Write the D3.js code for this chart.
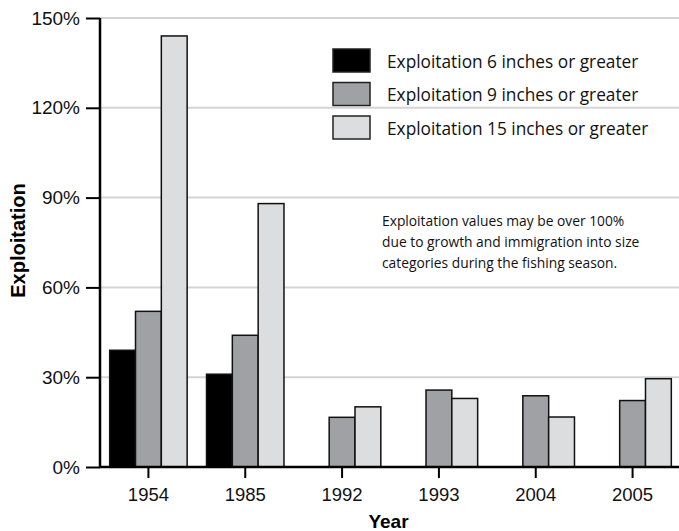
<!DOCTYPE html>
<html>
<head>
<meta charset="utf-8">
<script src="https://cdn.jsdelivr.net/npm/d3@7"></script>
<style>
  body { margin: 0; background: #fff; }
  svg { display: block; }
</style>
</head>
<body>
<svg id="chart" width="679" height="531"></svg>
<script>
const years = ['1954', '1985', '1992', '1993', '2004', '2005'];
const seriesNames = [
  'Exploitation 6 inches or greater',
  'Exploitation 9 inches or greater',
  'Exploitation 15 inches or greater'
];
const six = [39, 31, 0, 0, 0, 0];
const nine = [52, 44, 16.6, 25.7, 23.8, 22.2];
const fifteen = [144, 88, 20.1, 22.9, 16.7, 29.5];
const yTicks = [0, 30, 60, 90, 120, 150];
const noteLines = [
  'Exploitation values may be over 100%',
  'due to growth and immigration into size',
  'categories during the fishing season.'
];
const colors = ['#000000', '#a0a1a5', '#dcdddf'];

const svg = d3.select('#chart');
const margin = { top: 18, right: -2, bottom: 64, left: 100 };
const width = +svg.attr('width') - margin.left - margin.right;
const height = +svg.attr('height') - margin.top - margin.bottom;
const g = svg.append('g').attr('transform', `translate(${margin.left},${margin.top})`);

const data = years.map((y, i) => ({ year: y, values: [six[i], nine[i], fifteen[i]] }));

const x0 = d3.scaleBand()
  .domain(years)
  .range([0, width])
  .paddingInner(0.2)
  .paddingOuter(0.1);

const x1 = d3.scaleBand()
  .domain([0, 1, 2])
  .range([0, x0.bandwidth()]);

const y = d3.scaleLinear()
  .domain([0, 150])
  .range([height, 0]);

// grid
g.append('g')
  .selectAll('line')
  .data(yTicks.slice(1))
  .enter().append('line')
  .attr('x1', 0)
  .attr('x2', width)
  .attr('y1', d => y(d))
  .attr('y2', d => y(d))
  .attr('stroke', '#d4d4d4')
  .attr('stroke-width', 2);

// bars
g.selectAll('.group')
  .data(data)
  .enter().append('g')
  .attr('class', 'group')
  .attr('transform', d => `translate(${x0(d.year)},0)`)
  .selectAll('rect')
  .data(d => d.values.map((v, k) => ({ k, v })).filter(e => e.v > 0))
  .enter().append('rect')
  .attr('x', d => x1(d.k))
  .attr('width', x1.bandwidth())
  .attr('y', d => y(d.v))
  .attr('height', d => height - y(d.v))
  .attr('fill', d => colors[d.k])
  .attr('stroke', '#111')
  .attr('stroke-width', 1.5);

// axes
const yAxis = g.append('g')
  .call(d3.axisLeft(y).tickValues(yTicks).tickSize(14).tickPadding(6).tickFormat(d => d + '%'));
yAxis.select('.domain').attr('stroke-width', 2.5).attr('d', `M0,0V${height}`);
yAxis.selectAll('.tick line').attr('stroke-width', 2);
yAxis.selectAll('text')
  .attr('font-family', 'Liberation Sans, Arial, sans-serif')
  .attr('font-size', 19)
  .attr('fill', '#111');

const xAxis = g.append('g')
  .attr('transform', `translate(0,${height})`)
  .call(d3.axisBottom(x0).tickSize(11).tickPadding(10));
xAxis.select('.domain').attr('stroke-width', 2.5).attr('d', `M0,0H${width}`);
xAxis.selectAll('.tick line').attr('stroke-width', 2);
xAxis.selectAll('text')
  .attr('font-family', 'Liberation Sans, Arial, sans-serif')
  .attr('font-size', 18.5)
  .attr('fill', '#111');

g.append('text')
  .attr('x', width / 2 - 2)
  .attr('y', height + 61)
  .attr('text-anchor', 'middle')
  .attr('font-family', 'Liberation Sans, Arial, sans-serif')
  .attr('font-weight', 'bold')
  .attr('font-size', 19)
  .text('Year');

g.append('text')
  .attr('transform', 'rotate(-90)')
  .attr('x', -height / 2 + 2)
  .attr('y', -75)
  .attr('text-anchor', 'middle')
  .attr('font-family', 'Liberation Sans, Arial, sans-serif')
  .attr('font-weight', 'bold')
  .attr('font-size', 20)
  .text('Exploitation');

// legend
const legend = svg.append('g').attr('transform', 'translate(333,49)');
const item = legend.selectAll('.item')
  .data(seriesNames)
  .enter().append('g')
  .attr('class', 'item')
  .attr('transform', (d, i) => `translate(0,${i * 33.5})`);
item.append('rect')
  .attr('width', 37)
  .attr('height', 23)
  .attr('fill', (d, i) => colors[i])
  .attr('stroke', '#222')
  .attr('stroke-width', 1.5);
item.append('text')
  .attr('x', 54)
  .attr('y', 18.5)
  .attr('font-family', 'Open Sans, sans-serif')
  .attr('font-size', 17.3)
  .attr('fill', '#111')
  .text(d => d);

// note
svg.append('g')
  .selectAll('text')
  .data(noteLines)
  .enter().append('text')
  .attr('x', 382)
  .attr('y', (d, i) => 226 + i * 21)
  .attr('font-family', 'Open Sans, sans-serif')
  .attr('font-size', 13.8)
  .attr('fill', '#111')
  .text(d => d);
</script>
</body>
</html>
